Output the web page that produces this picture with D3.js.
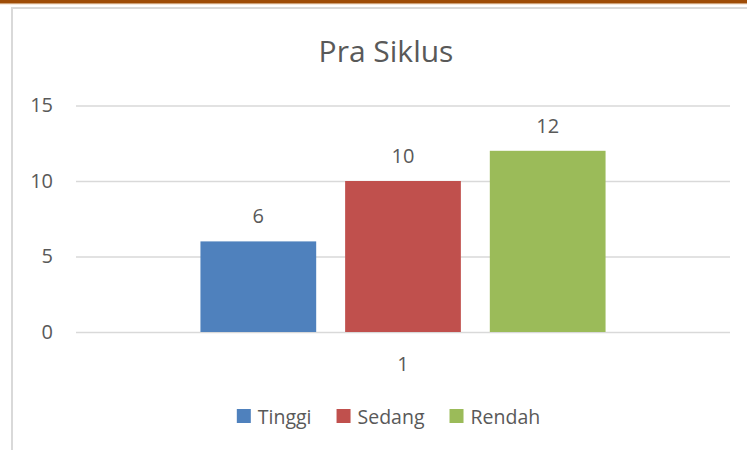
<!DOCTYPE html>
<html>
<head>
<meta charset="utf-8">
<script src="https://cdn.jsdelivr.net/npm/d3@7"></script>
<style>
    body { margin: 0; background: #fff; }
    svg text { font-family: "Open Sans", "Noto Sans", sans-serif; fill: #595959; }
</style>
</head>
<body>
<div id="chart"></div>
<script>
// chart data
const title = 'Pra Siklus'
const categories = ['1']
const seriesNames = ['Tinggi', 'Sedang', 'Rendah']
const seriesValues = [6, 10, 12]
const seriesColors = ['#4F81BD', '#C0504D', '#9BBB59']
const yTicks = [0, 5, 10, 15]

let w = 747
let h = 450
let plot = { left: 76, right: 730, top: 105.5, bottom: 332 }

let svg = d3.select('#chart')
    .append('svg')
    .attr('width', w)
    .attr('height', h)

// page decoration: brown band at top and the chart frame
svg.append('rect').attr('x', 0).attr('y', 0).attr('width', w).attr('height', 3.7).attr('fill', '#9E4C07')
svg.append('rect').attr('x', 0).attr('y', 3.7).attr('width', w).attr('height', 1).attr('fill', '#F6E3D2')
svg.append('rect')
    .attr('x', 12).attr('y', 8)
    .attr('width', 800).attr('height', 500)
    .attr('fill', 'none')
    .attr('stroke', '#D9D9D9')
    .attr('stroke-width', 2)

let y = d3.scaleLinear()
    .domain([0, 15])
    .range([plot.bottom, plot.top])

let x0 = d3.scaleBand()
    .domain(categories)
    .range([plot.left, plot.right])
    .padding(0.235)

let x1 = d3.scaleBand()
    .domain(seriesNames)
    .range([0, x0.bandwidth()])
    .paddingInner(0.2)

// gridlines + y labels
let yAxis = svg.append('g')
    .attr('transform', `translate(${plot.left},0)`)
    .call(d3.axisLeft(y).tickValues(yTicks).tickSizeInner(-(plot.right - plot.left)).tickSizeOuter(0).tickPadding(23))
yAxis.select('.domain').remove()
yAxis.selectAll('line').attr('stroke', '#D9D9D9').attr('stroke-width', 1.3)
yAxis.selectAll('text').attr('font-size', 20).attr('fill', '#595959').style('font-family', null)

// x labels
let xAxis = svg.append('g')
    .attr('transform', `translate(0,${plot.bottom})`)
    .call(d3.axisBottom(x0).tickSize(0).tickPadding(25))
xAxis.select('.domain').remove()
xAxis.selectAll('text').attr('font-size', 20).attr('fill', '#595959').style('font-family', null)

// bars
let group = svg.selectAll('g.cat')
    .data(categories)
    .enter()
    .append('g')
    .attr('class', 'cat')
    .attr('transform', d => `translate(${x0(d)},0)`)

group.selectAll('rect')
    .data(() => seriesNames.map((s, i) => ({ name: s, value: seriesValues[i], color: seriesColors[i] })))
    .enter()
    .append('rect')
    .attr('x', d => x1(d.name))
    .attr('y', d => y(d.value))
    .attr('width', x1.bandwidth())
    .attr('height', d => y(0) - y(d.value))
    .attr('fill', d => d.color)

group.selectAll('text.value')
    .data(() => seriesNames.map((s, i) => ({ name: s, value: seriesValues[i] })))
    .enter()
    .append('text')
    .attr('class', 'value')
    .attr('x', d => x1(d.name) + x1.bandwidth() / 2)
    .attr('y', d => y(d.value) - 18)
    .attr('text-anchor', 'middle')
    .attr('font-size', 20)
    .text(d => d.value)

// title
svg.append('text')
    .attr('x', 386)
    .attr('y', 62)
    .attr('text-anchor', 'middle')
    .attr('font-size', 30)
    .text(title)

// legend, centered
let legend = svg.append('g')
let lx = 0
seriesNames.forEach((s, i) => {
    let item = legend.append('g').attr('transform', `translate(${lx},0)`)
    item.append('rect')
        .attr('x', 0).attr('y', 409)
        .attr('width', 14).attr('height', 14)
        .attr('fill', seriesColors[i])
    let t = item.append('text')
        .attr('x', 21).attr('y', 424)
        .attr('font-size', 19.5)
        .text(s)
    lx += 21 + t.node().getComputedTextLength() + 25
})
let legendW = lx - 25
legend.attr('transform', `translate(${388.5 - legendW / 2},0)`)
</script>
</body>
</html>
